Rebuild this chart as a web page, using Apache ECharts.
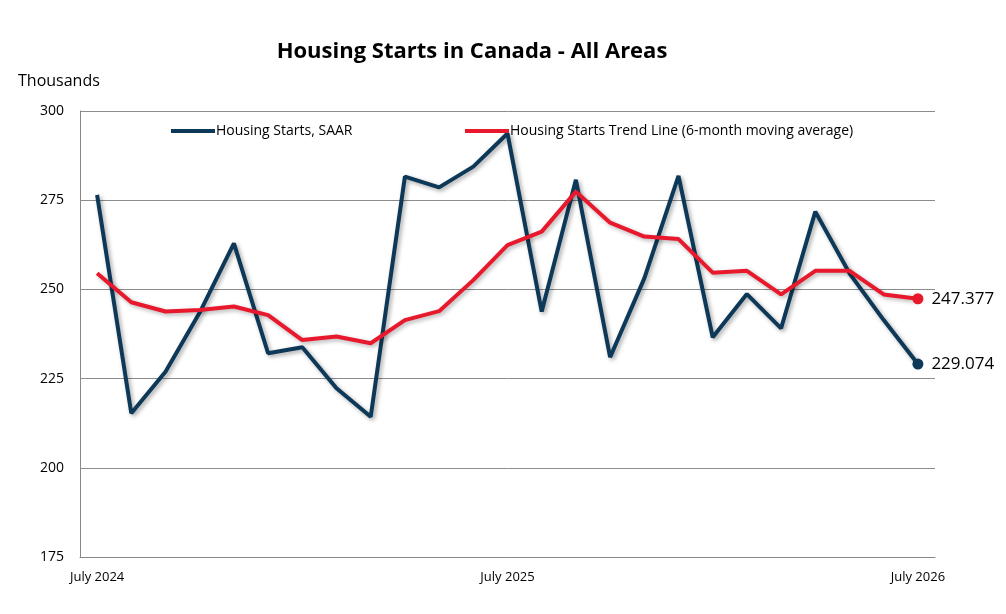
<!DOCTYPE html>
<html>
<head>
<meta charset="utf-8">
<script src="https://cdn.jsdelivr.net/npm/echarts@6/dist/echarts.min.js"></script>
<style>html,body{margin:0;padding:0;background:#fff}#chart{width:1006px;height:614px}</style>
</head>
<body>
<div id="chart"></div>
<script>
var months = ['July 2024','Aug 2024','Sep 2024','Oct 2024','Nov 2024','Dec 2024','Jan 2025','Feb 2025','Mar 2025','Apr 2025','May 2025','Jun 2025',
  'July 2025','Aug 2025','Sep 2025','Oct 2025','Nov 2025','Dec 2025','Jan 2026','Feb 2026','Mar 2026','Apr 2026','May 2026','Jun 2026','July 2026'];
var starts = [276.5,215.3,226.9,243.5,262.9,232.1,233.8,222.3,214.3,281.6,278.6,284.4,293.7,243.8,280.7,231.0,253.1,281.8,236.6,248.7,239.1,271.8,254.5,241.4,229.074];
var trend = [254.5,246.4,243.8,244.2,245.2,242.8,235.8,236.8,234.9,241.4,243.9,252.6,262.4,266.2,277.4,268.7,264.8,264.1,254.7,255.2,248.6,255.2,255.2,248.6,247.377];
var shownLabels = ['July 2024','July 2025','July 2026'];

var font = '"Open Sans", "Liberation Sans", sans-serif';

function withEnd(arr, color) {
  return arr.map(function (v, i) {
    if (i < arr.length - 1) return v;
    return {
      value: v, symbol: 'circle', symbolSize: 11,
      itemStyle: { color: color },
      label: { show: true, position: 'right', distance: 8, color: '#000', fontSize: 17, fontFamily: font,
        formatter: function (p) { return p.value.toFixed(3); } }
    };
  });
}

var myChart = echarts.init(document.getElementById('chart'));
var option = {
  animation: false,
  title: {
    text: 'Housing Starts in Canada - All Areas',
    left: 467, top: 36, textAlign: 'center',
    textStyle: { fontSize: 22, fontWeight: 'bold', color: '#000', fontFamily: font }
  },
  graphic: [{ type: 'text', left: 18, top: 73, style: { text: 'Thousands', fontSize: 16, fill: '#000', fontFamily: font } }],
  legend: [{
    data: ['Housing Starts, SAAR'], left: 166, top: 119, itemWidth: 44, itemHeight: 4, itemGap: 4,
    icon: 'rect', textStyle: { fontSize: 14, color: '#000', fontFamily: font, padding: [0, 0, 0, -4] }
  }, {
    data: ['Housing Starts Trend Line (6-month moving average)'], left: 460, top: 119, itemWidth: 44, itemHeight: 4,
    icon: 'rect', textStyle: { fontSize: 14, color: '#000', fontFamily: font, padding: [0, 0, 0, -4] }
  }],
  grid: { left: 80, right: 71, top: 111, bottom: 57 },
  xAxis: {
    type: 'category', data: months, boundaryGap: true,
    axisLine: { lineStyle: { color: '#888' } },
    axisTick: { show: false },
    axisLabel: {
      interval: 0, color: '#000', fontSize: 13, fontFamily: font, margin: 14,
      formatter: function (v) { return shownLabels.indexOf(v) >= 0 ? v : ''; }
    }
  },
  yAxis: {
    type: 'value', min: 175, max: 300, interval: 25,
    axisLine: { show: true, lineStyle: { color: '#888' } },
    axisTick: { show: false },
    axisLabel: { color: '#000', fontSize: 14, fontFamily: font, margin: 16 },
    splitLine: { lineStyle: { color: '#8c8c8c', width: 1 } }
  },
  series: [{
    name: 'Housing Starts, SAAR', type: 'line', data: withEnd(starts, '#0d3857'),
    showSymbol: true, symbol: 'none', color: '#0d3857',
    lineStyle: { width: 4, color: '#0d3857', shadowColor: 'rgba(0,0,0,0.35)', shadowBlur: 4, shadowOffsetX: 2, shadowOffsetY: 2 }
  }, {
    name: 'Housing Starts Trend Line (6-month moving average)', type: 'line', data: withEnd(trend, '#e8192c'),
    showSymbol: true, symbol: 'none', color: '#e8192c',
    lineStyle: { width: 4, color: '#e8192c', shadowColor: 'rgba(0,0,0,0.3)', shadowBlur: 4, shadowOffsetX: 2, shadowOffsetY: 2 }
  }]
};
myChart.setOption(option);
</script>
</body>
</html>
